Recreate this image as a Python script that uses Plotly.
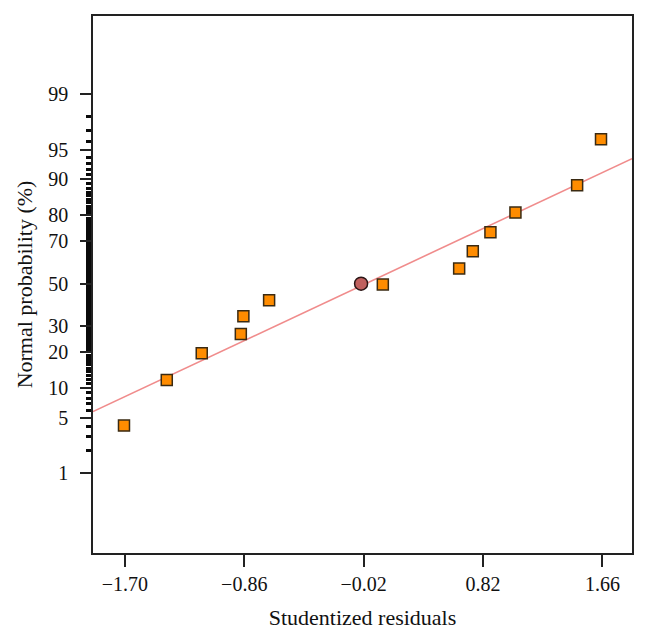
import numpy as np
import plotly.graph_objects as go
from statistics import NormalDist

# ---- data ----
residuals = [-1.706, -1.405, -1.159, -0.884, -0.866, -0.685, 0.115,
             0.652, 0.748, 0.872, 1.048, 1.482, 1.650]
prob_pct = [4.06, 11.8, 19.65, 26.8, 34.5, 41.9, 49.6,
            57.4, 65.5, 73.6, 80.9, 88.7, 96.2]
highlight_residual = [-0.038]
highlight_prob = [50.0]

# fitted normal reference line (mean, sd of residuals)
fit_mean = -0.006
fit_sd = 1.22

x_tick_vals = [-1.70, -0.86, -0.02, 0.82, 1.66]
x_tick_text = ["\u22121.70", "\u22120.86", "\u22120.02", "0.82", "1.66"]
y_major_pct = [1, 5, 10, 20, 30, 50, 70, 80, 90, 95, 99]
y_minor_pct = [p for p in range(1, 100) if p not in y_major_pct]

x_range = [-1.924, 1.868]
z_range = [-3.31, 3.29]

nd = NormalDist()
def z(p):
    return nd.inv_cdf(p / 100.0)

FONT = "Liberation Serif"
AXC = "#222222"

fig = go.Figure()

lx = np.array(x_range)
fig.add_trace(go.Scatter(
    x=lx, y=(lx - fit_mean) / fit_sd, mode="lines",
    line=dict(color="#f08c8c", width=1.6), showlegend=False, hoverinfo="skip"))

fig.add_trace(go.Scatter(
    x=residuals, y=[z(p) for p in prob_pct], mode="markers",
    marker=dict(symbol="square", size=11, color="#ff8c00",
                line=dict(color="#3a2a12", width=1.5)),
    showlegend=False))

fig.add_trace(go.Scatter(
    x=highlight_residual, y=[z(p) for p in highlight_prob], mode="markers",
    marker=dict(symbol="circle", size=13, color="#c0605e",
                line=dict(color="#2a1515", width=1.5)),
    showlegend=False))

fig.update_layout(
    width=646, height=638,
    margin=dict(l=85, r=22, t=6, b=93),
    paper_bgcolor="white", plot_bgcolor="white",
    font=dict(family=FONT, size=20, color="#111111"),
    xaxis=dict(
        range=x_range, tickmode="array", tickvals=x_tick_vals, ticktext=x_tick_text,
        ticks="outside", ticklen=12, tickwidth=1.5, tickcolor=AXC,
        showline=True, linecolor=AXC, linewidth=1.5, mirror=True,
        showgrid=False, zeroline=False,
        title=dict(text="Studentized residuals", font=dict(size=22), standoff=16),
        tickfont=dict(size=20),
    ),
    yaxis=dict(
        range=z_range, tickmode="array",
        tickvals=[z(p) for p in y_major_pct], ticktext=[str(p) for p in y_major_pct],
        ticks="outside", ticklen=11, tickwidth=1.5, tickcolor=AXC,
        minor=dict(tickmode="array", tickvals=[z(p) for p in y_minor_pct],
                   ticks="outside", ticklen=5, tickwidth=2.6, tickcolor="#0a0a0a",
                   showgrid=False),
        showline=True, linecolor=AXC, linewidth=1.5, mirror=True,
        showgrid=False, zeroline=False,
        ticklabelstandoff=8,
        title=dict(text="Normal probability (%)", font=dict(size=22), standoff=10),
        tickfont=dict(size=20),
    ),
)

fig.write_html("out.html")
